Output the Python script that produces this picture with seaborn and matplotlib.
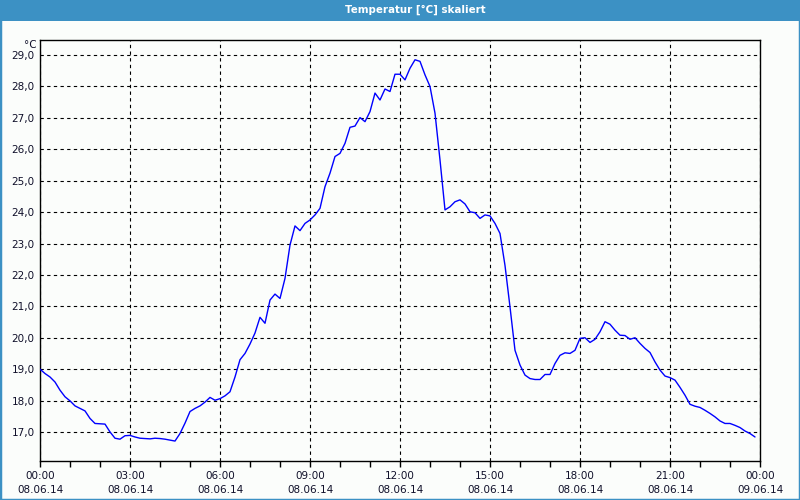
import matplotlib
matplotlib.use("Agg")
import matplotlib.pyplot as plt
from matplotlib.patches import Rectangle
import seaborn as sns
import pandas as pd

# ---- data ----
hours = [k / 6 for k in range(144)]
temps = [
    19.00, 18.86, 18.75, 18.59, 18.33, 18.12, 17.99, 17.83, 17.75, 17.67,
    17.43, 17.27, 17.26, 17.25, 17.00, 16.80, 16.77, 16.88, 16.89, 16.84,
    16.80, 16.79, 16.78, 16.80, 16.79, 16.77, 16.74, 16.71, 16.95, 17.28,
    17.65, 17.75, 17.83, 17.95, 18.10, 18.01, 18.06, 18.15, 18.28, 18.75,
    19.30, 19.50, 19.80, 20.15, 20.65, 20.46, 21.20, 21.39, 21.25, 21.89,
    22.95, 23.56, 23.41, 23.64, 23.75, 23.91, 24.12, 24.81, 25.24, 25.77,
    25.87, 26.19, 26.70, 26.74, 27.01, 26.88, 27.20, 27.79, 27.57, 27.92,
    27.84, 28.39, 28.39, 28.21, 28.58, 28.85, 28.80, 28.37, 28.00, 27.15,
    25.66, 24.07, 24.17, 24.33, 24.39, 24.26, 24.01, 23.98, 23.80, 23.91,
    23.88, 23.64, 23.32, 22.30, 20.98, 19.60, 19.13, 18.81, 18.70, 18.67,
    18.67, 18.83, 18.83, 19.18, 19.44, 19.52, 19.50, 19.60, 19.98, 20.00,
    19.85, 19.95, 20.19, 20.51, 20.43, 20.24, 20.08, 20.07, 19.95, 20.00,
    19.82, 19.66, 19.53, 19.23, 18.97, 18.78, 18.73, 18.65, 18.42, 18.17,
    17.88, 17.82, 17.78, 17.69, 17.59, 17.48, 17.35, 17.27, 17.27, 17.21,
    17.14, 17.03, 16.95, 16.84,
]
x_tick_hours = [0, 3, 6, 9, 12, 15, 18, 21, 24]
x_tick_times = ["00:00", "03:00", "06:00", "09:00", "12:00", "15:00", "18:00", "21:00", "00:00"]
x_tick_dates = ["08.06.14"] * 8 + ["09.06.14"]
y_ticks = list(range(17, 30))
y_tick_labels = [f"{v},0" for v in y_ticks]
title = "Temperatur [°C] skaliert"
unit = "°C"

df = pd.DataFrame({"Stunde": hours, "Temperatur": temps})

# ---- style ----
sns.set_theme(style="white")
plt.rcParams["font.family"] = ["DejaVu Sans"]
BG = "#fbfdfb"
BLUE_BAR = "#3c91c4"
TXT = "#10102a"

fig = plt.figure(figsize=(8, 5), dpi=100, facecolor=BG)
ax = fig.add_axes([40 / 800, 1 - 461 / 500, 720 / 800, 421 / 500])
ax.set_facecolor(BG)

sns.lineplot(data=df, x="Stunde", y="Temperatur", ax=ax, color="#0000ff",
             linewidth=1.0, zorder=3)

ax.set_xlim(0, 24)
ax.set_ylim(16.075, 29.48)

ax.set_xticks(x_tick_hours)
ax.set_xticklabels([f"{t}\n{d}" for t, d in zip(x_tick_times, x_tick_dates)],
                   fontsize=7.5, linespacing=1.55, color=TXT)
ax.set_xticks(range(0, 25), minor=True)
ax.set_yticks(y_ticks)
ax.set_yticklabels(y_tick_labels, fontsize=7.5, color=TXT)

ax.tick_params(axis="x", which="both", direction="out", length=4, width=1,
               color="black", pad=3, bottom=True)
ax.tick_params(axis="y", which="both", length=0, pad=4, left=True)

ax.grid(True, which="major", axis="both", color="black", linestyle=(0, (3, 3)),
        linewidth=0.8)
ax.set_axisbelow(True)
for s in ax.spines.values():
    s.set_color("black")
    s.set_linewidth(1.0)
    s.set_visible(True)
ax.set_xlabel("")
ax.set_ylabel("")

# unit label
fig.text(37 / 800, 1 - 45.5 / 500, unit, ha="right", va="center", fontsize=7.5,
         color=TXT)

# title bar
fig.patches.append(Rectangle((0, 1 - 20.5 / 500), 1, 20.5 / 500, transform=fig.transFigure,
                             facecolor=BLUE_BAR, edgecolor="none", zorder=0))
fig.text(415.5 / 800, 1 - 10 / 500, title, ha="center", va="center", fontsize=7.4,
         fontweight="bold", color="white")
# outer border
fig.patches.append(Rectangle((0, 0), 1, 1, transform=fig.transFigure,
                             facecolor="none", edgecolor=BLUE_BAR, linewidth=2.5,
                             zorder=5))

fig.savefig("out.png", dpi=100, facecolor=BG)
